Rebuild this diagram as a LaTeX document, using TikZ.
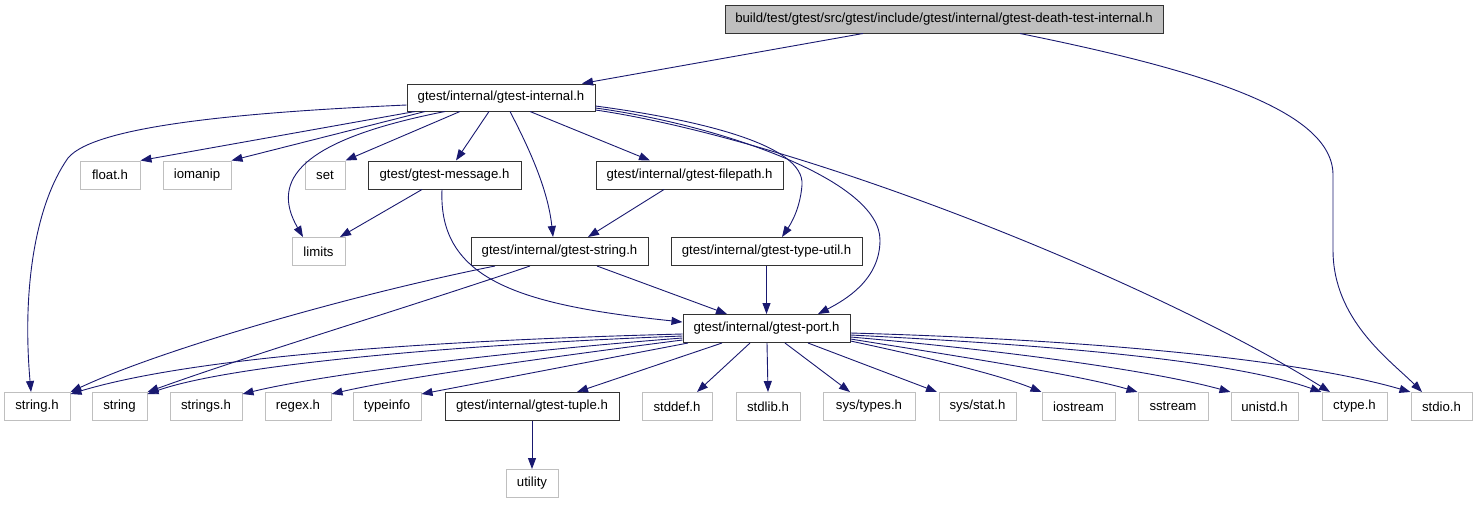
\documentclass[tikz,border=0pt]{standalone}
\usepackage{fontspec}
\setmainfont{Liberation Sans}
\usetikzlibrary{arrows.meta}
\definecolor{edge}{HTML}{191970}
\definecolor{extgray}{HTML}{BFBFBF}
\begin{document}
\begin{tikzpicture}[x=1pt,y=-1pt,
  box/.style={rectangle, inner sep=0pt, minimum height=28pt, line width=1pt, font=\fontsize{13.2}{15}\selectfont},
  doc/.style={box, draw=black!80, fill=white},
  ext/.style={box, draw=extgray, fill=white},
  root/.style={box, draw=black!80, fill=extgray},
  dep/.style={draw=edge, line width=0.9pt, -{Triangle[length=11pt,width=8pt]}}
]
\useasboundingbox (0,0) rectangle (1477,504);

% nodes
\node[root, minimum width=438pt] (top) at (944,19) {build/test/gtest/src/gtest/include/gtest/internal/gtest-death-test-internal.h};
\node[doc, minimum width=188pt, minimum height=27pt] (internal) at (501,97.5) {gtest/internal/gtest-internal.h};

\node[ext, minimum width=60pt] (floath) at (110,175) {float.h};
\node[ext, minimum width=68pt] (iomanip) at (197,175) {iomanip};
\node[ext, minimum width=40pt] (set) at (325,175) {set};
\node[doc, minimum width=153pt] (message) at (444.5,175) {gtest/gtest-message.h};
\node[doc, minimum width=187pt] (filepath) at (689.5,175) {gtest/internal/gtest-filepath.h};

\node[ext, minimum width=53pt] (limits) at (318.5,251.5) {limits};
\node[doc, minimum width=177pt] (gstring) at (559.5,251.5) {gtest/internal/gtest-string.h};
\node[doc, minimum width=191pt] (typeutil) at (766.5,251.5) {gtest/internal/gtest-type-util.h};

\node[doc, minimum width=167pt] (port) at (766.5,328.5) {gtest/internal/gtest-port.h};

\node[ext, minimum width=66pt] (stringh) at (37,406.5) {string.h};
\node[ext, minimum width=55pt] (stringx) at (119.5,406.5) {string};
\node[ext, minimum width=72pt] (stringsh) at (206,406.5) {strings.h};
\node[ext, minimum width=66pt] (regexh) at (298,406.5) {regex.h};
\node[ext, minimum width=68pt] (typeinfo) at (387,406.5) {typeinfo};
\node[doc, minimum width=174pt] (tuple) at (532,406.5) {gtest/internal/gtest-tuple.h};
\node[ext, minimum width=70pt] (stddef) at (677,406.5) {stddef.h};
\node[ext, minimum width=64pt] (stdlib) at (768,406.5) {stdlib.h};
\node[ext, minimum width=92pt] (systypes) at (869,406.5) {sys/types.h};
\node[ext, minimum width=77pt] (sysstat) at (977.5,406.5) {sys/stat.h};
\node[ext, minimum width=73pt] (iostream) at (1078.5,406.5) {iostream};
\node[ext, minimum width=70pt] (sstream) at (1173,406.5) {sstream};
\node[ext, minimum width=67pt] (unistd) at (1264.5,406.5) {unistd.h};
\node[ext, minimum width=65pt] (ctype) at (1354.5,406.5) {ctype.h};
\node[ext, minimum width=61pt] (stdio) at (1441.5,406.5) {stdio.h};

\node[ext, minimum width=52pt] (utility) at (532,483.5) {utility};

% edges from top
\draw[dep] ([xshift=-81pt]top.south) -- ([xshift=81pt]internal.north);
\draw[dep] ([xshift=76pt]top.south) .. controls (1200,70) and (1333,110) .. (1333,175) -- (1333,250) .. controls (1333,320) and (1390,360) .. ([xshift=-19.5pt]stdio.north);

% edges from gtest-internal.h
\draw[dep] ([yshift=-7.5pt]internal.west) .. controls (250,112) and (95,125) .. (68,158) .. controls (35,205) and (22,290) .. ([xshift=-6pt]stringh.north);
\draw[dep] ([xshift=-86pt]internal.south) -- (floath.north east);
\draw[dep] ([xshift=-76pt]internal.south) -- (iomanip.north east);
\draw[dep] ([xshift=-56pt]internal.south) .. controls (300,140) and (270,180) .. ([xshift=-15.5pt]limits.north);
\draw[dep] ([xshift=-41pt]internal.south) -- (set.north east);
\draw[dep] ([xshift=-12pt]internal.south) -- ([xshift=11.5pt]message.north);
\draw[dep] ([xshift=9pt]internal.south) .. controls (530,150) and (548,190) .. ([xshift=-6.5pt]gstring.north);
\draw[dep] ([xshift=29pt]internal.south) -- ([xshift=-39.5pt]filepath.north);
\draw[dep] ([yshift=-8.5pt]internal.east) .. controls (700,120) and (805,145) .. (802,185) .. controls (800,210) and (790,225) .. ([xshift=15.5pt]typeutil.north);
\draw[dep] ([yshift=-10.5pt]internal.east) .. controls (720,125) and (880,180) .. (880,240) .. controls (880,280) and (845,300) .. ([xshift=51.5pt]port.north);
\draw[dep] ([yshift=-12.5pt]internal.east) .. controls (800,140) and (1150,280) .. ([xshift=-24.5pt]ctype.north);

% edges from gtest-message.h
\draw[dep] ([xshift=-22.5pt]message.south) -- ([xshift=21.5pt]limits.north);
\draw[dep] ([xshift=-2.5pt]message.south) .. controls (438,280) and (520,305) .. ([yshift=6.5pt]port.west);

% filepath
\draw[dep] ([xshift=-25.5pt]filepath.south) -- ([xshift=28.5pt]gstring.north);

% gtest-string.h
\draw[dep] ([xshift=-64.5pt]gstring.south) .. controls (350,295) and (160,350) .. (stringh.north east);
\draw[dep] ([xshift=-29.5pt]gstring.south) .. controls (400,310) and (250,355) .. (stringx.north east);
\draw[dep] ([xshift=37.5pt]gstring.south) -- ([xshift=-39.5pt]port.north);

% type-util
\draw[dep] (typeutil.south) -- (port.north);

% gtest-port.h
\draw[dep] ([yshift=-5.5pt]port.west) .. controls (450,340) and (200,355) .. ([yshift=-2pt]stringh.north east);
\draw[dep] ([yshift=-7.5pt]port.west) .. controls (450,345) and (230,365) .. ([yshift=-2pt]stringx.north east);
\draw[dep] ([yshift=-9.5pt]port.west) .. controls (500,352) and (320,375) .. ([yshift=-2pt]stringsh.north east);
\draw[dep] ([yshift=-11.5pt]port.west) .. controls (550,357) and (400,378) .. ([yshift=-2pt]regexh.north east);
\draw[dep] ([xshift=-78.5pt]port.south) -- ([yshift=-2pt]typeinfo.north east);
\draw[dep] ([xshift=-44.5pt]port.south) -- ([xshift=45pt]tuple.north);
\draw[dep] ([xshift=-16.5pt]port.south) -- ([xshift=20pt]stddef.north);
\draw[dep] ([xshift=0.5pt]port.south) -- (stdlib.north);
\draw[dep] ([xshift=18.5pt]port.south) -- ([xshift=-19pt]systypes.north);
\draw[dep] ([xshift=41.5pt]port.south) -- ([xshift=-40.5pt]sysstat.north);
\draw[dep] ([yshift=-12.5pt]port.east) .. controls (930,358) and (1000,375) .. (iostream.north west);
\draw[dep] ([yshift=-10.5pt]port.east) .. controls (950,355) and (1080,375) .. (sstream.north west);
\draw[dep] ([yshift=-8.5pt]port.east) .. controls (1000,350) and (1150,370) .. (unistd.north west);
\draw[dep] ([yshift=-6.5pt]port.east) .. controls (1050,345) and (1230,360) .. (ctype.north west);
\draw[dep] ([yshift=-4.5pt]port.east) .. controls (1100,340) and (1300,360) .. (stdio.north west);

% tuple
\draw[dep] (tuple.south) -- (utility.north);
\end{tikzpicture}
\end{document}
